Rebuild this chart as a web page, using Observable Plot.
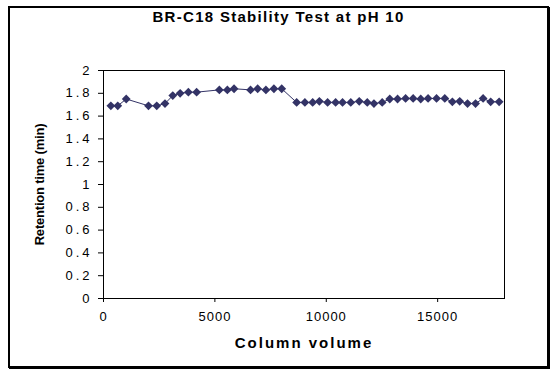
<!DOCTYPE html>
<html><head><meta charset="utf-8">
<script src="https://cdn.jsdelivr.net/npm/d3@7"></script>
<script src="https://cdn.jsdelivr.net/npm/@observablehq/plot@0.6"></script>
<style>
body{margin:0;background:#fff;}
#wrap{position:relative;width:558px;height:376px;overflow:hidden;font-family:"Liberation Sans",Arial,sans-serif;}
#frame{position:absolute;left:8px;top:6px;width:537px;height:358px;border:2px solid #000;box-shadow:1px 1px 0 #000;}
#title{position:absolute;left:0;top:9px;width:557px;text-align:center;font-weight:bold;font-size:15px;letter-spacing:1.3px;line-height:16px;}
#chart{position:absolute;left:0;top:0;}
</style></head>
<body><div id="wrap"><div id="frame"></div><div id="title">BR-C18 Stability Test at pH 10</div><div id="chart"></div></div>
<script>
const columnVolume = [330,640,1020,2020,2390,2760,3110,3440,3810,4180,5200,5560,5860,6600,6920,7290,7650,8000,8670,9040,9390,9690,10060,10420,10730,11100,11480,11840,12140,12510,12850,13200,13560,13900,14240,14570,14950,15320,15660,15990,16340,16700,17040,17380,17760];
const retentionTime = [1.69,1.69,1.75,1.69,1.69,1.71,1.78,1.80,1.81,1.81,1.83,1.83,1.84,1.83,1.84,1.83,1.84,1.84,1.72,1.72,1.72,1.73,1.72,1.72,1.72,1.72,1.73,1.72,1.71,1.72,1.75,1.75,1.755,1.755,1.75,1.755,1.755,1.755,1.725,1.73,1.71,1.71,1.755,1.725,1.725];
const xTicks = [0,5000,10000,15000];
const xTickLabels = ["0","5000","10000","15000"];
const yTicks = [0,0.2,0.4,0.6,0.8,1,1.2,1.4,1.6,1.8,2];
const yTickLabels = ["0","0.2","0.4","0.6","0.8","1","1.2","1.4","1.6","1.8","2"];
const xLabel = "Column volume";
const yLabel = "Retention time (min)";

const data = columnVolume.map((x,i)=>({x, y: retentionTime[i]}));
const diamond = {draw(ctx, size){const h=Math.sqrt(size/Math.PI); ctx.moveTo(0,-h);ctx.lineTo(h,0);ctx.lineTo(0,h);ctx.lineTo(-h,0);ctx.closePath();}};

const chart = Plot.plot({
  width:558, height:376,
  marginLeft:103, marginRight:54, marginTop:70, marginBottom:78,
  style:{fontFamily:"Liberation Sans, Arial, sans-serif", fontSize:"13px", color:"#000", background:"transparent", overflow:"visible"},
  x:{domain:[0,18000]},
  y:{domain:[0,2]},
  marks:[
    Plot.frame({stroke:"#000"}),
    Plot.axisX({ticks:xTicks, tickFormat:d=>xTickLabels[xTicks.indexOf(d)], tickSize:4, tickPadding:9, label:xLabel, labelAnchor:"center", labelArrow:"none", labelOffset:49}),
    Plot.axisY({ticks:yTicks, tickFormat:d=>yTickLabels[yTicks.indexOf(d)], tickSize:5, tickPadding:6, label:yLabel, labelAnchor:"center", labelArrow:"none", labelOffset:69}),
    Plot.line(data,{x:"x",y:"y",stroke:"#333366",strokeWidth:1}),
    Plot.dot(data,{x:"x",y:"y",symbol:diamond,r:4.4,fill:"#333366",stroke:"none"})
  ]
});
document.getElementById("chart").appendChild(chart);
const svg = d3.select(chart);
svg.selectAll('[aria-label="x-axis tick label"] text').style("letter-spacing","1px");
svg.selectAll('[aria-label="y-axis tick label"] text').style("letter-spacing","3px");
svg.selectAll('[aria-label="x-axis label"] text').style("font-weight","bold").style("font-size","15px").style("letter-spacing","2px");
svg.selectAll('[aria-label="y-axis label"] text').style("font-weight","bold").style("font-size","13px").style("letter-spacing","-0.2px");
svg.selectAll('[aria-label="x-axis tick"], [aria-label="y-axis tick"]').attr("stroke","#000");
</script>
</body></html>
